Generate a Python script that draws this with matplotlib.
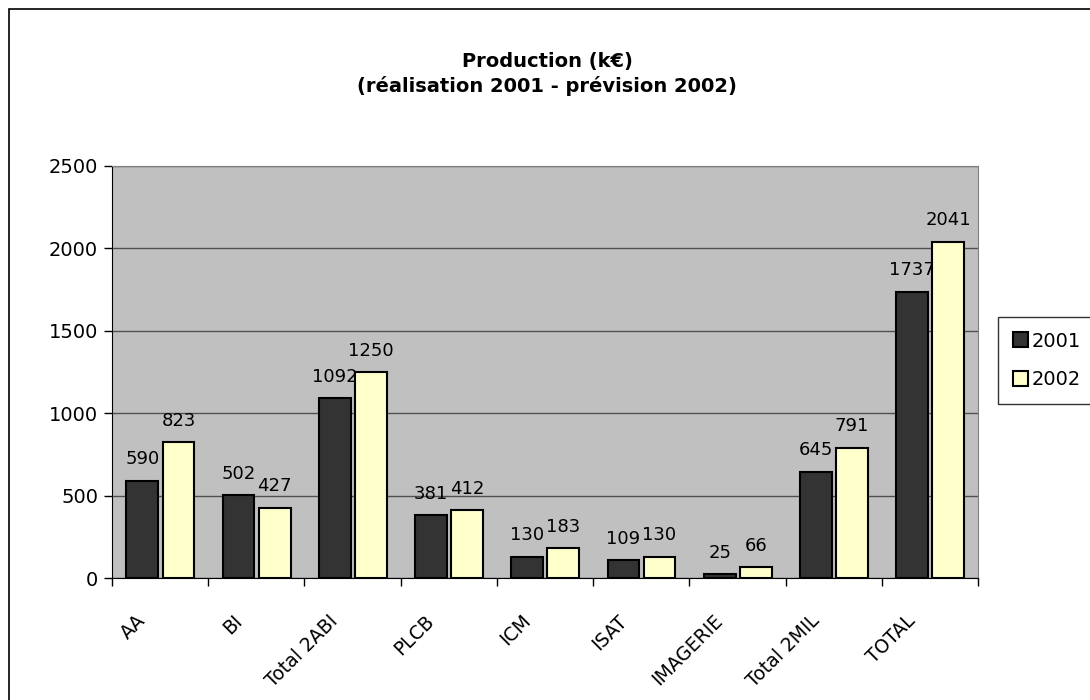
import matplotlib.pyplot as plt
import numpy as np
from matplotlib.patches import Rectangle

# data (k€)
categories = ["AA", "BI", "Total 2ABI", "PLCB", "ICM", "ISAT", "IMAGERIE", "Total 2MIL", "TOTAL"]
prod_2001 = [590, 502, 1092, 381, 130, 109, 25, 645, 1737]
prod_2002 = [823, 427, 1250, 412, 183, 130, 66, 791, 2041]
years = ["2001", "2002"]

plt.rcParams['font.family'] = ['DejaVu Sans']

fig = plt.figure(figsize=(10.9, 7), dpi=100)
ax = fig.add_axes([0.1028, 0.174, 0.7945, 0.589])

x = np.arange(len(categories))
w = 0.33
b1 = ax.bar(x - 0.185, prod_2001, w, color="#333333", edgecolor="black", linewidth=1.5, label=years[0], zorder=3)
b2 = ax.bar(x + 0.19, prod_2002, w, color="#FFFFCC", edgecolor="black", linewidth=1.5, label=years[1], zorder=3)

# value labels, drawn under the bars
for bars, vals in ((b1, prod_2001), (b2, prod_2002)):
    for r, v in zip(bars, vals):
        ax.text(r.get_x() + r.get_width() / 2, v + 100, str(v), ha="center", va="baseline",
                fontsize=13, zorder=2)

ax.set_facecolor("#C0C0C0")
ax.set_xlim(-0.5, len(categories) - 0.5)
ax.set_ylim(0, 2500)
ax.set_yticks(np.arange(0, 2501, 500))
ax.yaxis.grid(True, color="#505050", linewidth=1, zorder=0)
ax.set_axisbelow(True)

# ticks between categories, labels at category centres
ax.set_xticks(np.arange(-0.5, len(categories), 1))
ax.set_xticklabels([])
ax.tick_params(axis="x", which="major", direction="out", length=6, width=1)
ax.tick_params(axis="y", direction="out", length=6, width=1, labelsize=14, pad=4)
for xi, lab in zip(x, categories):
    ax.text(xi - 0.25, -200, lab, rotation=45, ha="right", va="top", rotation_mode="anchor", fontsize=13.5)

for side in ("top", "right"):
    ax.spines[side].set_color("#808080")
for side in ("left", "bottom"):
    ax.spines[side].set_color("black")

fig.text(0.502, 0.894, "Production (k€)\n(réalisation 2001 - prévision 2002)",
         ha="center", va="center", fontsize=14, fontweight="bold", linespacing=1.35)

leg = fig.legend(handles=[b1, b2], labels=years, loc="upper left",
                 bbox_to_anchor=(0.9156, 0.547), borderaxespad=0, frameon=True, fontsize=14,
                 handlelength=0.8, handleheight=0.8, handletextpad=0.2,
                 borderpad=0.75, labelspacing=1.0, fancybox=False, edgecolor="black")
leg.get_frame().set_linewidth(1)

# outer frame
fig.patches.append(Rectangle((0.008, -0.1), 1.2, 0.1 + 0.987, transform=fig.transFigure,
                             fill=False, edgecolor="black", linewidth=1.2))

fig.savefig("out.png", dpi=100)
